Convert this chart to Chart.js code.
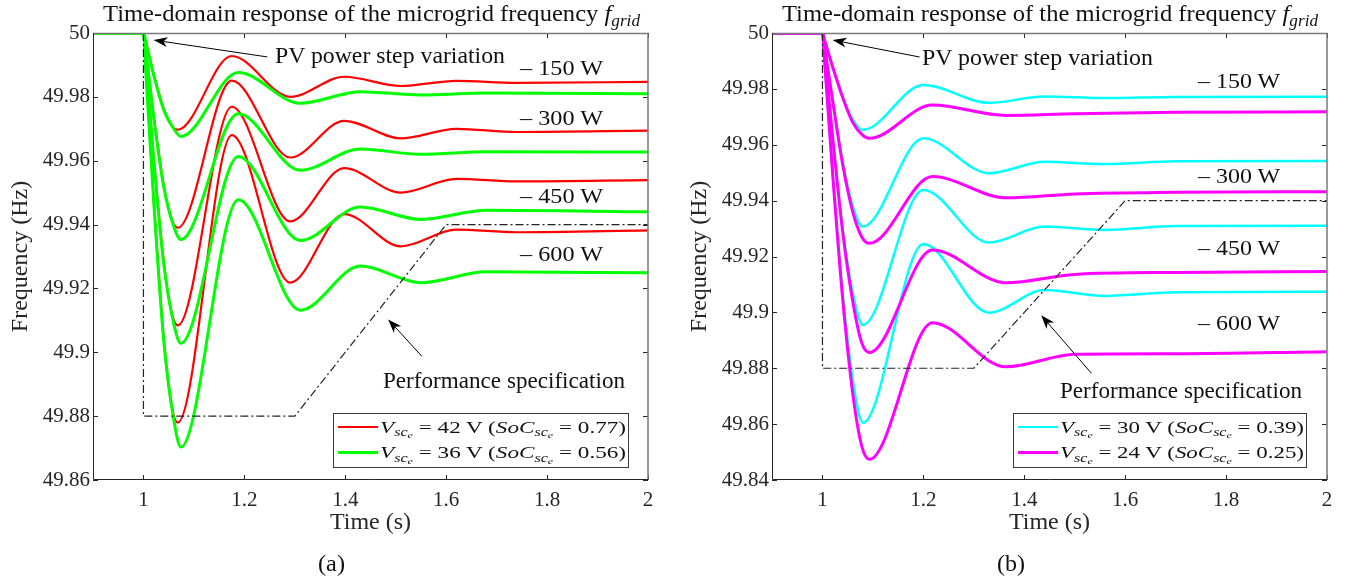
<!DOCTYPE html>
<html>
<head>
<meta charset="utf-8">
<script src="https://cdn.jsdelivr.net/npm/chart.js@4.4.1/dist/chart.umd.min.js"></script>
<style>
body { margin: 0; background: #fff; width: 1345px; height: 583px; overflow: hidden; position: relative; font-family: 'Liberation Serif', serif; color: #111; }
canvas { position: absolute; top: 0; }
.t { position: absolute; white-space: nowrap; line-height: 1; transform-origin: 0 0; }
sub { font-size: 0.7em; vertical-align: -0.3em; line-height: 0; }
sub sub { font-size: 0.75em; vertical-align: -0.25em; }
.leg { position: absolute; box-sizing: border-box; border: 1px solid #3a3a3a; background: #fff; }
.smp { position: absolute; }
</style>
</head>
<body>
<canvas id="panelA" width="672" height="583" style="left:0px"></canvas>
<canvas id="panelB" width="673" height="583" style="left:672px"></canvas>

<!-- panel (a) text -->
<div class="t" style="left:103px;top:2.4px;font-size:23px" data-w="537">Time-domain response of the microgrid frequency <i>f</i><sub><i>grid</i></sub></div>
<div class="t" style="left:275px;top:43.7px;font-size:23px" data-w="230">PV power step variation</div>
<div class="t" style="left:383px;top:369px;font-size:23px" data-w="242">Performance specification</div>
<div class="t" style="left:520px;top:56.6px;font-size:22px" data-w="83">– 150 W</div>
<div class="t" style="left:520px;top:106.6px;font-size:22px" data-w="83">– 300 W</div>
<div class="t" style="left:520px;top:184.9px;font-size:22px" data-w="83">– 450 W</div>
<div class="t" style="left:520px;top:243.3px;font-size:22px" data-w="83">– 600 W</div>
<div class="t" style="left:318px;top:552.4px;font-size:23px" data-w="27">(a)</div>
<div class="leg" style="left:333px;top:413px;width:296px;height:55px"></div>
<div class="smp" style="left:338px;top:425.7px;width:40px;height:2px;background:#ff0000"></div>
<div class="smp" style="left:338px;top:451.2px;width:40px;height:3px;background:#00ff00"></div>
<div class="t" style="left:380px;top:418.5px;font-size:17px" data-w="246"><i>V</i><sub><i>sc</i><sub><i>e</i></sub></sub> = 42 V (<i>SoC</i><sub><i>sc</i><sub><i>e</i></sub></sub> = 0.77)</div>
<div class="t" style="left:380px;top:444.1px;font-size:17px" data-w="246"><i>V</i><sub><i>sc</i><sub><i>e</i></sub></sub> = 36 V (<i>SoC</i><sub><i>sc</i><sub><i>e</i></sub></sub> = 0.56)</div>

<!-- panel (b) text -->
<div class="t" style="left:781.7px;top:2.4px;font-size:23px" data-w="536">Time-domain response of the microgrid frequency <i>f</i><sub><i>grid</i></sub></div>
<div class="t" style="left:921.7px;top:46.4px;font-size:23px" data-w="231">PV power step variation</div>
<div class="t" style="left:1060px;top:379px;font-size:23px" data-w="242">Performance specification</div>
<div class="t" style="left:1198.3px;top:69.9px;font-size:22px" data-w="82">– 150 W</div>
<div class="t" style="left:1198.3px;top:164.9px;font-size:22px" data-w="82">– 300 W</div>
<div class="t" style="left:1198.3px;top:236.6px;font-size:22px" data-w="82">– 450 W</div>
<div class="t" style="left:1198.3px;top:311.6px;font-size:22px" data-w="82">– 600 W</div>
<div class="t" style="left:996.7px;top:552.4px;font-size:23px" data-w="28">(b)</div>
<div class="leg" style="left:1013px;top:413px;width:294px;height:55px"></div>
<div class="smp" style="left:1018px;top:425.5px;width:40px;height:2.5px;background:#00ffff"></div>
<div class="smp" style="left:1018px;top:451.2px;width:40px;height:3px;background:#ff00ff"></div>
<div class="t" style="left:1060px;top:418.5px;font-size:17px" data-w="244"><i>V</i><sub><i>sc</i><sub><i>e</i></sub></sub> = 30 V (<i>SoC</i><sub><i>sc</i><sub><i>e</i></sub></sub> = 0.39)</div>
<div class="t" style="left:1060px;top:444.1px;font-size:17px" data-w="244"><i>V</i><sub><i>sc</i><sub><i>e</i></sub></sub> = 24 V (<i>SoC</i><sub><i>sc</i><sub><i>e</i></sub></sub> = 0.25)</div>

<script>
// tick values
var xTicks = [1, 1.2, 1.4, 1.6, 1.8, 2]
var yTicksA = [49.86, 49.88, 49.9, 49.92, 49.94, 49.96, 49.98, 50]
var yTicksB = [49.84, 49.86, 49.88, 49.9, 49.92, 49.94, 49.96, 49.98, 50]

// (a) Vsc = 42 V, red - time points (s) and frequency (Hz)
var tRed = [0.9, 1.0, 1.005, 1.02, 1.04, 1.055, 1.068, 1.175, 1.291, 1.398, 1.51, 1.62, 1.74, 2.0]
var red150 = [50, 50, 49.997, 49.9873, 49.9764, 49.9712, 49.9697, 49.9928, 49.9800, 49.9863, 49.9834, 49.9850, 49.9844, 49.9847]
var red300 = [50, 50, 49.994, 49.9744, 49.9524, 49.9420, 49.9390, 49.9851, 49.9610, 49.9725, 49.9670, 49.9700, 49.9690, 49.9694]
var red450 = [50, 50, 49.991, 49.9615, 49.9286, 49.9130, 49.9084, 49.9769, 49.9410, 49.9577, 49.9500, 49.9543, 49.9535, 49.9539]
var red600 = [50, 50, 49.988, 49.9488, 49.9048, 49.8840, 49.8780, 49.9680, 49.9218, 49.9433, 49.9332, 49.9384, 49.9376, 49.9382]

// (a) Vsc = 36 V, green
var tGreen = [0.9, 1.0, 1.005, 1.02, 1.04, 1.06, 1.074, 1.188, 1.311, 1.43, 1.55, 1.68, 2.0]
var green150 = [50, 50, 49.997, 49.987, 49.976, 49.970, 49.9676, 49.9876, 49.9780, 49.9816, 49.9806, 49.9812, 49.9810]
var green300 = [50, 50, 49.994, 49.974, 49.952, 49.9395, 49.9353, 49.9747, 49.9570, 49.9637, 49.9620, 49.9628, 49.9627]
var green450 = [50, 50, 49.990, 49.961, 49.928, 49.909, 49.9028, 49.9613, 49.9350, 49.9455, 49.9416, 49.9445, 49.9440]
var green600 = [50, 50, 49.987, 49.948, 49.904, 49.879, 49.8703, 49.9478, 49.9132, 49.9270, 49.9218, 49.9252, 49.9249]

// (b) Vsc = 30 V, cyan
var tCyan = [0.9, 1.0, 1.005, 1.02, 1.04, 1.06, 1.08, 1.20, 1.33, 1.44, 1.56, 1.70, 2.0]
var cyan150 = [50, 50, 49.997, 49.988, 49.977, 49.969, 49.9653, 49.9814, 49.9750, 49.9773, 49.9767, 49.9771, 49.9772]
var cyan300 = [50, 50, 49.994, 49.976, 49.954, 49.938, 49.9307, 49.9623, 49.9498, 49.9539, 49.9531, 49.9541, 49.9542]
var cyan450 = [50, 50, 49.991, 49.963, 49.930, 49.907, 49.8955, 49.9438, 49.9250, 49.9307, 49.9295, 49.9309, 49.9310]
var cyan600 = [50, 50, 49.988, 49.951, 49.907, 49.876, 49.8605, 49.9245, 49.8999, 49.9080, 49.9059, 49.9072, 49.9074]

// (b) Vsc = 24 V, magenta
var tMag = [0.9, 1.0, 1.005, 1.02, 1.04, 1.06, 1.078, 1.093, 1.218, 1.364, 1.50, 1.70, 2.0]
var mag150 = [50, 50, 49.997, 49.988, 49.977, 49.968, 49.9637, 49.9623, 49.9742, 49.9705, 49.9711, 49.9716, 49.9718]
var mag300 = [50, 50, 49.994, 49.976, 49.953, 49.936, 49.927, 49.9247, 49.9486, 49.9410, 49.9424, 49.9430, 49.9432]
var mag450 = [50, 50, 49.991, 49.963, 49.929, 49.904, 49.889, 49.8856, 49.9223, 49.9106, 49.9136, 49.9143, 49.9146]
var mag600 = [50, 50, 49.988, 49.950, 49.905, 49.871, 49.852, 49.8474, 49.8963, 49.8805, 49.8850, 49.8852, 49.8859]

// performance specification envelope
var specT = [1, 1, 1.3, 1.6, 2]
var specF = [50, 49.88, 49.88, 49.94, 49.94]

function pts(t, f) {
    return t.map(function (x, i) { return { x: x, y: f[i] } })
}

function curve(t, f, color, w) {
    return { data: pts(t, f), borderColor: color, borderWidth: w, fill: false }
}

function spec() {
    return {
        data: pts(specT, specF), borderColor: "#222", borderWidth: 1.2,
        borderDash: [8, 3, 2, 3], cubicInterpolationMode: "default", tension: 0, fill: false
    }
}

// box with inward ticks on all sides, plus annotation arrows
var frame = {
    id: "frame",
    afterDatasetsDraw: function (chart) {
        var ctx = chart.ctx, a = chart.chartArea, sx = chart.scales.x, sy = chart.scales.y
        ctx.save()
        ctx.lineWidth = 1
        ctx.strokeStyle = "#262626"
        ctx.beginPath()
        sx.ticks.forEach(function (t) {
            var p = Math.round(sx.getPixelForValue(t.value)) + 0.5
            ctx.moveTo(p, a.bottom); ctx.lineTo(p, a.bottom - 5)
            ctx.moveTo(p, a.top); ctx.lineTo(p, a.top + 5)
        })
        sy.ticks.forEach(function (t) {
            var p = Math.round(sy.getPixelForValue(t.value)) + 0.5
            ctx.moveTo(a.left, p); ctx.lineTo(a.left + 5, p)
            ctx.moveTo(a.right, p); ctx.lineTo(a.right - 5, p)
        })
        ctx.stroke()
        ctx.strokeStyle = "#7a7a7a"
        ctx.lineWidth = 1.5
        ctx.beginPath()
        ctx.moveTo(a.left, a.top + 0.5); ctx.lineTo(a.right, a.top + 0.5); ctx.lineTo(a.right, a.bottom)
        ctx.stroke()
        ctx.strokeStyle = "#262626"
        ctx.lineWidth = 1
        ctx.beginPath()
        ctx.moveTo(a.left + 0.5, a.top); ctx.lineTo(a.left + 0.5, a.bottom - 0.5); ctx.lineTo(a.right, a.bottom - 0.5)
        ctx.stroke()

        var arrows = chart.options.plugins.frame.arrows || []
        arrows.forEach(function (ar) {
            var x1 = sx.getPixelForValue(ar.from[0]), y1 = sy.getPixelForValue(ar.from[1])
            var x2 = sx.getPixelForValue(ar.to[0]), y2 = sy.getPixelForValue(ar.to[1])
            var ang = Math.atan2(y2 - y1, x2 - x1)
            var L = 14, W = 5, N = 10
            ctx.strokeStyle = "#000"
            ctx.fillStyle = "#000"
            ctx.lineWidth = 1
            ctx.beginPath()
            ctx.moveTo(x1, y1)
            ctx.lineTo(x2 - N * Math.cos(ang), y2 - N * Math.sin(ang))
            ctx.stroke()
            ctx.beginPath()
            ctx.moveTo(x2, y2)
            ctx.lineTo(x2 - L * Math.cos(ang) + W * Math.sin(ang), y2 - L * Math.sin(ang) - W * Math.cos(ang))
            ctx.lineTo(x2 - N * Math.cos(ang), y2 - N * Math.sin(ang))
            ctx.lineTo(x2 - L * Math.cos(ang) - W * Math.sin(ang), y2 - L * Math.sin(ang) + W * Math.cos(ang))
            ctx.closePath()
            ctx.fill()
        })
        ctx.restore()
    }
}

var tickFont = { family: "Liberation Serif", size: 21 }
var axisFont = { family: "Liberation Serif", size: 24 }

function panel(id, datasets, yTicks, yAxisW, padRight, yTitlePad, arrows) {
    return new Chart(document.getElementById(id), {
        type: "line",
        data: { datasets: datasets },
        options: {
            responsive: false,
            animation: false,
            devicePixelRatio: 1,
            layout: { padding: { left: 0, right: padRight, top: 33, bottom: 46 } },
            elements: { point: { radius: 0 }, line: { cubicInterpolationMode: "monotone" } },
            plugins: { legend: { display: false }, tooltip: { enabled: false }, frame: { arrows: arrows } },
            scales: {
                x: {
                    type: "linear", min: 0.9, max: 2,
                    afterBuildTicks: function (s) { s.ticks = xTicks.map(function (v) { return { value: v } }) },
                    afterFit: function (s) { s.height = 57 },
                    grid: { display: false, drawTicks: false },
                    border: { display: false },
                    ticks: { autoSkip: false, maxRotation: 0, padding: 8, color: "#262626", font: tickFont,
                        callback: function (v) { return String(v) } },
                    title: { display: true, text: "Time (s)", color: "#262626", font: axisFont, padding: 0 }
                },
                y: {
                    type: "linear", min: yTicks[0], max: yTicks[yTicks.length - 1],
                    afterBuildTicks: function (s) { s.ticks = yTicks.map(function (v) { return { value: v } }) },
                    afterFit: function (s) { s.width = yAxisW },
                    grid: { display: false, drawTicks: false },
                    border: { display: false },
                    ticks: { autoSkip: false, padding: 3, color: "#262626", font: tickFont,
                        callback: function (v) { return String(+v.toFixed(2)) } },
                    title: { display: true, text: "Frequency (Hz)", color: "#262626", font: axisFont,
                        padding: { top: yTitlePad, bottom: 0 } }
                }
            }
        },
        plugins: [frame]
    })
}

var chartA = panel("panelA", [
    spec(),
    curve(tGreen, green150, "#00ff00", 3),
    curve(tGreen, green300, "#00ff00", 3),
    curve(tGreen, green450, "#00ff00", 3),
    curve(tGreen, green600, "#00ff00", 3),
    curve(tRed, red150, "#ff0000", 2.2),
    curve(tRed, red300, "#ff0000", 2.2),
    curve(tRed, red450, "#ff0000", 2.2),
    curve(tRed, red600, "#ff0000", 2.2)
], yTicksA, 93, 24, 6.6, [
    { from: [1.2455, 49.9925], to: [1.02, 49.9978] },
    { from: [1.552, 49.8987], to: [1.485, 49.9103] }
])

var chartB = panel("panelB", [
    spec(),
    curve(tMag, mag150, "#ff00ff", 3),
    curve(tMag, mag300, "#ff00ff", 3),
    curve(tMag, mag450, "#ff00ff", 3),
    curve(tMag, mag600, "#ff00ff", 3),
    curve(tCyan, cyan150, "#00ffff", 2.5),
    curve(tCyan, cyan300, "#00ffff", 2.5),
    curve(tCyan, cyan450, "#00ffff", 2.5),
    curve(tCyan, cyan600, "#00ffff", 2.5)
], yTicksB, 100, 18, 13.6, [
    { from: [1.1925, 49.9914], to: [1.02, 49.9975] },
    { from: [1.533, 49.8782], to: [1.4335, 49.899] }
])

// stretch each text run to the width it takes in the figure
function fit() {
    document.querySelectorAll("[data-w]").forEach(function (el) {
        el.style.transform = "none"
        var k = +el.dataset.w / el.getBoundingClientRect().width
        el.style.transform = "scaleX(" + k + ")"
    })
}
fit()
if (document.fonts) document.fonts.ready.then(fit)
</script>
</body>
</html>
